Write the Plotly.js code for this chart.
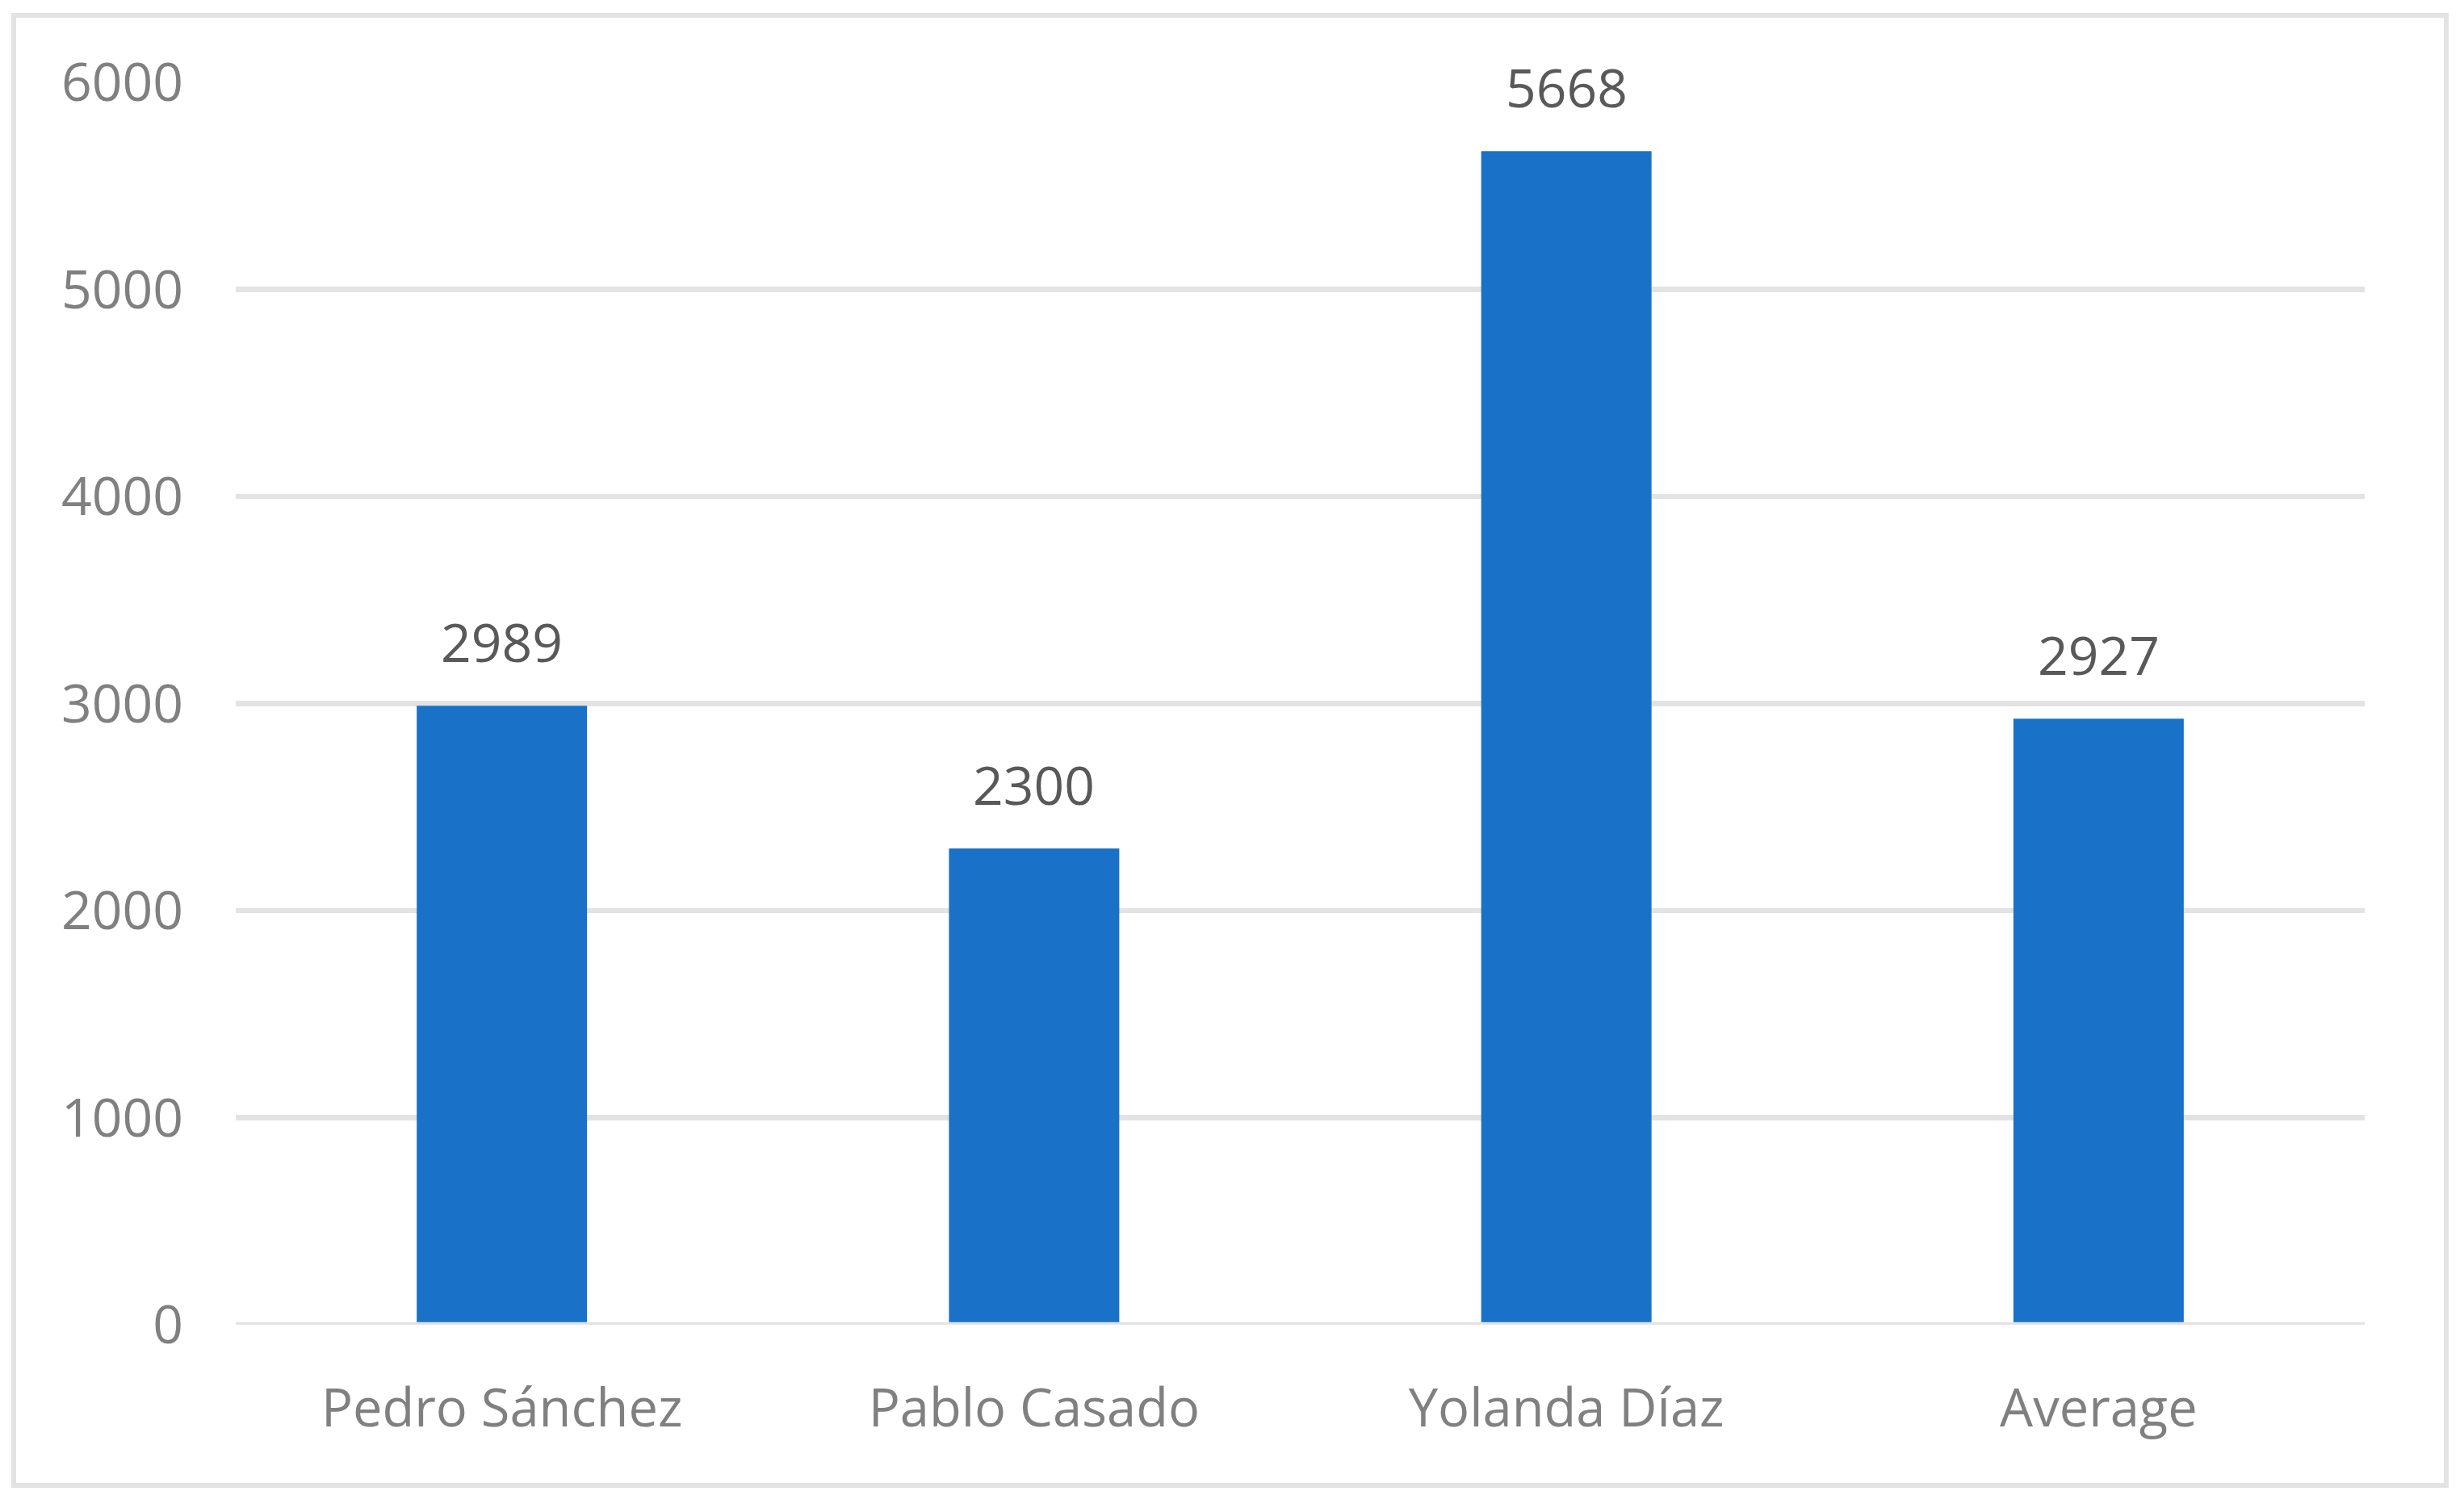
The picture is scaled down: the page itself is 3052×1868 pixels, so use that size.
<!DOCTYPE html>
<html>
<head>
<meta charset="utf-8">
<script src="https://cdn.plot.ly/plotly-3.0.1.min.js"></script>
<style>
  html, body { margin: 0; padding: 0; background: #ffffff; }
  #chart { width: 3052px; height: 1868px; }
</style>
</head>
<body>
<div id="chart"></div>
<script>
const categories = ['Pedro Sánchez', 'Pablo Casado', 'Yolanda Díaz', 'Average'];
const values = [2989, 2300, 5668, 2927];
const yTickValues = [0, 1000, 2000, 3000, 4000, 5000, 6000];
const yTickLabels = ['0', '1000', '2000', '3000', '4000', '5000', '6000'];

const FONT = '"Open Sans", "Liberation Sans", sans-serif';
const GRID = '#e3e3e3';

const trace = {
  type: 'bar',
  x: categories,
  y: values,
  marker: { color: '#1a72c8' },
  hoverinfo: 'skip'
};

const annotations = categories.map((c, i) => ({
  x: c,
  y: values[i],
  xref: 'x',
  yref: 'y',
  text: String(values[i]),
  showarrow: false,
  yanchor: 'bottom',
  yshift: 33,
  font: { family: FONT, size: 66, color: '#595959' }
}));

const layout = {
  width: 3052,
  height: 1868,
  margin: { l: 292, r: 123, t: 102, b: 227, pad: 0 },
  paper_bgcolor: '#ffffff',
  plot_bgcolor: '#ffffff',
  showlegend: false,
  bargap: 0.68,
  font: { family: FONT },
  xaxis: {
    type: 'category',
    tickfont: { family: FONT, size: 65, color: '#808080' },
    showgrid: false,
    zeroline: false,
    showline: false,
    ticks: '',
    ticklabelstandoff: 60
  },
  yaxis: {
    range: [0, 6000],
    tickvals: yTickValues,
    ticktext: yTickLabels,
    tickfont: { family: FONT, size: 66, color: '#808080' },
    showgrid: true,
    gridcolor: GRID,
    gridwidth: 6.5,
    zeroline: false,
    showline: false,
    ticks: '',
    ticklabelstandoff: 64
  },
  shapes: [
    {
      type: 'line', xref: 'paper', yref: 'y', x0: 0, x1: 1, y0: 0, y1: 0,
      line: { color: GRID, width: 6.5 }, layer: 'above'
    },
    {
      type: 'rect', xref: 'paper', yref: 'paper',
      x0: -275 / 2637, x1: (3030 - 292) / 2637,
      y0: -(1840 - 1641) / 1539, y1: (1641 - 19) / 1539,
      line: { color: GRID, width: 6 }, fillcolor: 'rgba(0,0,0,0)', layer: 'below'
    }
  ],
  annotations: annotations
};

Plotly.newPlot('chart', [trace], layout, { displayModeBar: false, staticPlot: true });
</script>
</body>
</html>
